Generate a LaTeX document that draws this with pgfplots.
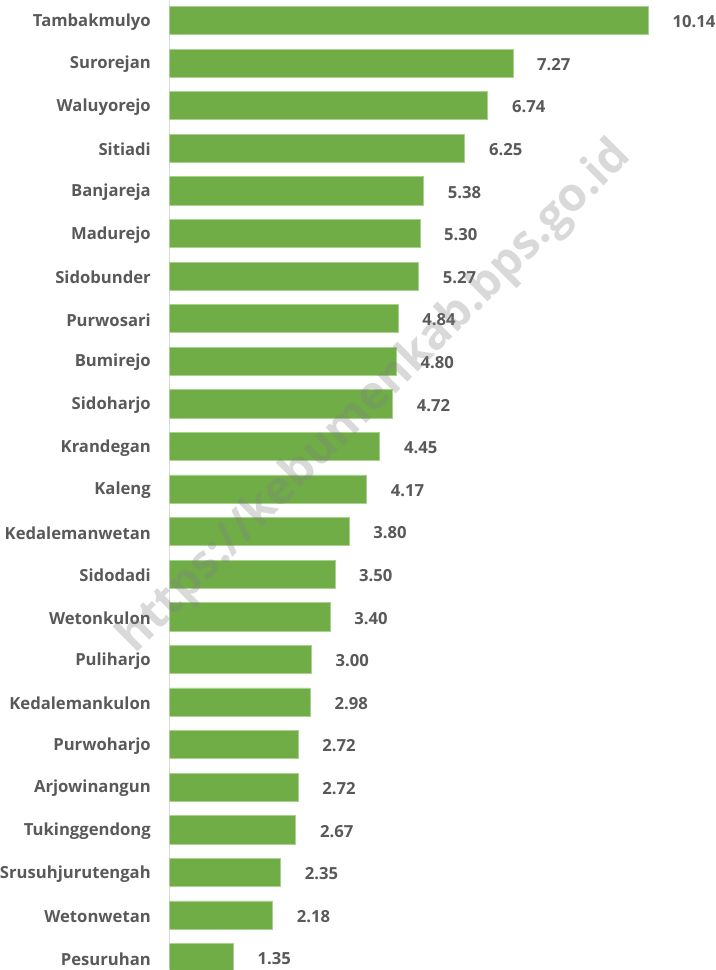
\documentclass[border=0pt]{standalone}
\usepackage{pgfplots}
\pgfplotsset{compat=1.18}
\usepackage{pgfplotstable}
\usepackage{fontspec}
\setmainfont{Open Sans}
\definecolor{barg}{HTML}{70AD47}
\definecolor{bard}{HTML}{A9D18E}
\definecolor{txt}{HTML}{595959}
\definecolor{axl}{HTML}{D9D9D9}
\pgfplotstableread{
y x lab
22 10.14 10.14
21 7.27 7.27
20 6.74 6.74
19 6.25 6.25
18 5.38 5.38
17 5.30 5.30
16 5.27 5.27
15 4.84 4.84
14 4.80 4.80
13 4.72 4.72
12 4.45 4.45
11 4.17 4.17
10 3.80 3.80
9 3.50 3.50
8 3.40 3.40
7 3.00 3.00
6 2.98 2.98
5 2.72 2.72
4 2.72 2.72
3 2.67 2.67
2 2.35 2.35
1 2.18 2.18
0 1.35 1.35
}\datatab
\begin{document}
\begin{tikzpicture}
\begin{axis}[
  scale only axis,
  width=412.5pt, height=727.5pt,
  xmin=0, xmax=11.64, ymin=-0.28, ymax=22.47,
  axis x line=none,
  axis y line*=left,
  axis line style={draw=axl, line width=0.75pt},
  y axis line style={-},
  ytick={0,...,22},
  yticklabels={Pesuruhan,Wetonwetan,Srusuhjurutengah,Tukinggendong,Arjowinangun,Purwoharjo,Kedalemankulon,Puliharjo,Wetonkulon,Sidodadi,Kedalemanwetan,Kaleng,Krandegan,Sidoharjo,Bumirejo,Purwosari,Sidobunder,Madurejo,Banjareja,Sitiadi,Waluyorejo,Surorejan,Tambakmulyo},
  major tick length=0pt,
  yticklabel style={font=\fontsize{12.5}{14}\selectfont\bfseries, text=txt, inner sep=0pt, anchor=east, xshift=-14pt, yshift=-1pt},
  xbar, bar width=0.66, bar shift=0pt,
  nodes near coords,
  point meta=explicit symbolic,
  nodes near coords style={font=\fontsize{12.5}{14}\selectfont\bfseries, text=txt, anchor=west, inner sep=0pt, xshift=18pt, yshift=-1pt},
]
\addplot[fill=barg, draw=bard, line width=0.5pt] table[x=x, y=y, meta=lab]{\datatab};
\coordinate (wm) at (axis cs:4.36,13.16);
\end{axis}
\node[rotate=45, text=gray, opacity=0.3, font=\fontsize{35}{40}\selectfont\bfseries] at (wm) {https://kebumenkab.bps.go.id};
\end{tikzpicture}
\end{document}
